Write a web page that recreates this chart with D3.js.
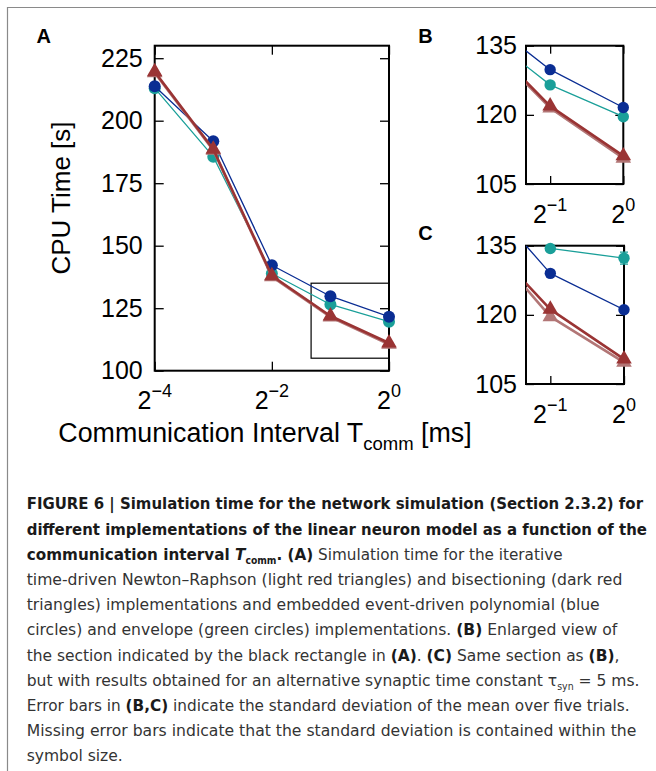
<!DOCTYPE html>
<html><head><meta charset="utf-8">
<script src="https://cdn.jsdelivr.net/npm/d3@7"></script>
<style>body{margin:0;background:#fff}svg{display:block}</style></head>
<body>
<svg id="fig" width="656" height="771"></svg>
<script>
// ---------- data ----------
const expA = [-4, -3, -2, -1, 0];               // T_comm = 2^e ms
const polyA = [213.8, 191.8, 142.2, 129.8, 121.6]; // event-driven polynomial (blue)
const envA  = [213.0, 185.6, 138.9, 126.5, 119.6]; // event-driven envelope (green)
const bisA  = [219.6, 188.6, 138.0, 121.9, 111.1]; // bisectioning (dark red)
const nrA   = [219.2, 188.2, 137.6, 121.5, 110.6]; // Newton-Raphson (light red)
const expC = [-2, -1, 0];
const polyC = [147.2, 129.0, 121.1];
const envC  = [146.0, 134.4, 132.3];
const bisC  = [138.2, 121.2, 110.4];
const nrC   = [138.1, 119.6, 109.7];
const errEnvC = [0, 0.5, 1.3];
const yTicksA = [100, 125, 150, 175, 200, 225];
const xTickExpA = [-4, -2, 0];
const yTicksBC = [105, 120, 135];
const xTickExpBC = [-1, 0];

const COL = {poly: '#0a2d93', env: '#1a9f99', bis: '#9a3434', nr: '#b27676'};
const svg = d3.select('#fig');
const FONT = "'Liberation Sans', Arial, Helvetica, sans-serif";

// frame box
svg.append('path').attr('d', 'M7.5,771 V7.5 H656').attr('fill', 'none')
  .attr('stroke', '#8a8a8a').attr('stroke-width', 1.2);

let clipN = 0;
function panel(o) {
  const g = svg.append('g');
  const x = d3.scaleLog().base(2).domain([2 ** o.xd[0], 2 ** o.xd[1]]).range([o.x0, o.x1]);
  const y = d3.scaleLinear().domain(o.yd).range([o.y1, o.y0]);
  const cid = 'clip' + (clipN++);
  svg.append('clipPath').attr('id', cid).append('rect')
    .attr('x', o.x0).attr('y', o.y0).attr('width', o.x1 - o.x0).attr('height', o.y1 - o.y0);
  const tk = o.tk;
  const ax = [
    g.append('g').attr('transform', `translate(${o.x0},0)`)
      .call(d3.axisLeft(y).tickValues(o.yt).tickSize(-tk).tickPadding(o.pad).tickFormat(d3.format('d'))),
    g.append('g').attr('transform', `translate(${o.x1},0)`)
      .call(d3.axisRight(y).tickValues(o.yt).tickSize(-tk).tickFormat('')),
    g.append('g').attr('transform', `translate(0,${o.y1})`)
      .call(d3.axisBottom(x).tickValues(o.xt.map(e => 2 ** e)).tickSize(-tk).tickFormat('')),
    g.append('g').attr('transform', `translate(0,${o.y0})`)
      .call(d3.axisTop(x).tickValues(o.xt.map(e => 2 ** e)).tickSize(-tk).tickFormat(''))
  ];
  ax.forEach(a => {
    a.select('.domain').remove();
    a.selectAll('line').attr('stroke', '#000').attr('stroke-width', 1.3);
    a.selectAll('text').attr('fill', '#000').style('font-family', FONT).style('font-size', '25px');
  });
  o.xt.forEach(e => {
    const t = g.append('text').attr('x', x(2 ** e)).attr('y', o.y1 + 38.6)
      .attr('text-anchor', 'middle').style('font-family', FONT).style('font-size', '25px');
    t.append('tspan').text('2');
    t.append('tspan').attr('dy', -12).style('font-size', '18px').text(e === 0 ? '0' : '\u2212' + (-e));
  });
  g.append('rect').attr('x', o.x0).attr('y', o.y0).attr('width', o.x1 - o.x0).attr('height', o.y1 - o.y0)
    .attr('fill', 'none').attr('stroke', '#000').attr('stroke-width', 2);
  if (o.zoomRect) {
    const z = o.zoomRect;
    g.append('rect').attr('x', x(2 ** z.xd[0])).attr('y', y(z.yd[1]))
      .attr('width', x(2 ** z.xd[1]) - x(2 ** z.xd[0])).attr('height', y(z.yd[0]) - y(z.yd[1]))
      .attr('fill', 'none').attr('stroke', '#000').attr('stroke-width', 1.2);
  }
  o.series.forEach(s => {
    const pts = o.exps.map((e, i) => [2 ** e, s.v[i], s.err ? s.err[i] : 0]);
    g.append('path').attr('clip-path', `url(#${cid})`)
      .attr('d', d3.line().x(d => x(d[0])).y(d => y(d[1]))(pts))
      .attr('fill', 'none').attr('stroke', s.c).attr('stroke-width', s.w).attr('stroke-linejoin', 'round');
    const vis = pts.filter(d => d[0] >= 2 ** o.xd[0] - 1e-9);
    vis.filter(d => d[2] > 0).forEach(d => {
      const cx = x(d[0]), ya = y(d[1] + d[2]), yb = y(d[1] - d[2]);
      g.append('path').attr('d', `M${cx},${ya}V${yb}M${cx - 4},${ya}H${cx + 4}M${cx - 4},${yb}H${cx + 4}`)
        .attr('stroke', s.c).attr('stroke-width', 1.3).attr('fill', 'none');
    });
    if (s.m === 'c') {
      g.selectAll(null).data(vis).enter().append('circle')
        .attr('cx', d => x(d[0])).attr('cy', d => y(d[1])).attr('r', o.r).attr('fill', s.c);
    } else {
      g.selectAll(null).data(vis).enter().append('path')
        .attr('d', d3.symbol(d3.symbolTriangle, o.tri))
        .attr('transform', d => `translate(${x(d[0])},${y(d[1])})`).attr('fill', s.c);
    }
  });
  return {x, y};
}

const seriesA = [
  {v: envA, c: COL.env, w: 1.3, m: 'c'},
  {v: polyA, c: COL.poly, w: 1.3, m: 'c'},
  {v: nrA, c: COL.nr, w: 2.6, m: 't'},
  {v: bisA, c: COL.bis, w: 2.6, m: 't'}
];
const seriesC = [
  {v: envC, c: COL.env, w: 1.3, m: 'c', err: errEnvC},
  {v: polyC, c: COL.poly, w: 1.3, m: 'c'},
  {v: nrC, c: COL.nr, w: 2.6, m: 't'},
  {v: bisC, c: COL.bis, w: 2.6, m: 't'}
];
const zoomX = [-1.33, 0], zoomY = [105, 135];

panel({x0: 154.7, y0: 45.7, x1: 389, y1: 370.7, xd: [-4, 0], yd: [100, 230], yt: yTicksA, xt: xTickExpA,
  tk: 9, pad: 12, exps: expA, series: seriesA, r: 6, tri: 105, zoomRect: {xd: zoomX, yd: zoomY}});
panel({x0: 526, y0: 45.7, x1: 623.3, y1: 184, xd: zoomX, yd: zoomY, yt: yTicksBC, xt: xTickExpBC,
  tk: 8, pad: 9, exps: expA, series: seriesA, r: 5.7, tri: 105});
panel({x0: 526, y0: 245.7, x1: 624, y1: 384, xd: zoomX, yd: zoomY, yt: yTicksBC, xt: xTickExpBC,
  tk: 8, pad: 9, exps: expC, series: seriesC, r: 5.7, tri: 105});

// axis titles
svg.append('text').attr('transform', 'translate(70,198) rotate(-90)').attr('text-anchor', 'middle')
  .style('font-family', FONT).style('font-size', '26px').text('CPU Time [s]');
const xl = svg.append('text').attr('x', 265).attr('y', 441.7).attr('text-anchor', 'middle')
  .style('font-family', FONT).style('font-size', '26.8px');
xl.append('tspan').text('Communication Interval T');
xl.append('tspan').attr('dy', 8).style('font-size', '18.5px').text('comm');
xl.append('tspan').attr('dy', -8).text(' [ms]');

// panel letters
[['A', 36.5, 43.3], ['B', 418.3, 42.7], ['C', 418.3, 239.5]].forEach(([t, px, py]) =>
  svg.append('text').attr('x', px).attr('y', py).style('font-family', FONT).style('font-weight', 'bold')
    .style('font-size', '20px').text(t));

// caption
const CF = "'Liberation Sans Narrow', 'DejaVu Sans Condensed', 'Liberation Sans', sans-serif";
const cap = [
  [644, [['FIGURE 6 | Simulation time for the network simulation (Section 2.3.2) for', 'b']]],
  [646.7, [['different implementations of the linear neuron model as a function of the', 'b']]],
  [563, [['communication interval ', 'b'], ['T', 'bi'], ['comm', 'bs'], ['. (A)', 'b'], [' Simulation time for the iterative', '']]],
  [622.7, [['time-driven Newton\u2013Raphson (light red triangles) and bisectioning (dark red', '']]],
  [600, [['triangles) implementations and embedded event-driven polynomial (blue', '']]],
  [618.7, [['circles) and envelope (green circles) implementations. ', ''], ['(B)', 'b'], [' Enlarged view of', '']]],
  [620, [['the section indicated by the black rectangle in ', ''], ['(A)', 'b'], ['. ', ''], ['(C)', 'b'], [' Same section as ', ''], ['(B)', 'b'], [',', '']]],
  [640, [['but with results obtained for an alternative synaptic time constant \u03c4', ''], ['syn', 's'], [' = 5 ms.', '']]],
  [630, [['Error bars in ', ''], ['(B,C)', 'b'], [' indicate the standard deviation of the mean over five trials.', '']]],
  [636.7, [['Missing error bars indicate that the standard deviation is contained within the', '']]],
  [null, [['symbol size.', '']]]
];
const scales = [];
cap.forEach(([xe, segs], i) => {
  const gl = svg.append('g');
  const t = gl.append('text').attr('x', 0).attr('y', 0).style('font-family', CF).style('font-size', '16.5px')
    .attr('fill', '#333');
  let sub = false;
  segs.forEach(([s, f]) => {
    const ts = t.append('tspan').text(s);
    if (f.includes('b')) ts.style('font-weight', 'bold').attr('fill', '#1a1a1a');
    if (f.includes('i')) ts.style('font-style', 'italic');
    if (f.includes('s')) { ts.attr('dy', 4).style('font-size', '10px'); sub = true; }
    else if (sub) { ts.attr('dy', -4); sub = false; }
  });
  const w = t.node().getBBox().width;
  let s;
  if (xe === null) {
    s = d3.mean(scales.slice(3));
  } else {
    s = (xe - 26.7) / w;
    scales.push(s);
  }
  gl.attr('transform', `translate(26.7,${509.4 + i * 25.2}) scale(${s},1)`);
});
</script>
</body></html>
